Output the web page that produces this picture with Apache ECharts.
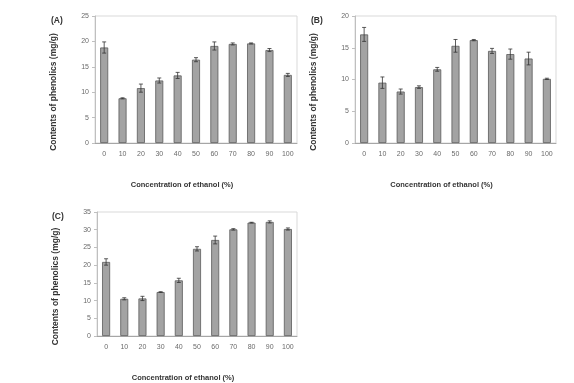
<!DOCTYPE html>
<html>
<head>
<meta charset="utf-8">
<script src="https://cdn.jsdelivr.net/npm/echarts@6/dist/echarts.min.js"></script>
<style>
  html, body { margin: 0; padding: 0; background: #fff; }
  #chart { width: 574px; height: 383px; }
</style>
</head>
<body>
<div id="chart"></div>
<script>
// ethanol concentration (%)
const categories = ["0", "10", "20", "30", "40", "50", "60", "70", "80", "90", "100"];

// panel A
const valuesA = [18.8, 8.8, 10.8, 12.3, 13.3, 16.4, 19.1, 19.5, 19.6, 18.3, 13.4];
const errorsA = [1.1, 0.1, 0.8, 0.5, 0.6, 0.4, 0.8, 0.2, 0.1, 0.3, 0.3];
// panel B
const valuesB = [17.1, 9.5, 8.1, 8.8, 11.6, 15.3, 16.2, 14.5, 14.0, 13.3, 10.1];
const errorsB = [1.1, 0.9, 0.4, 0.2, 0.3, 1.0, 0.1, 0.4, 0.8, 1.0, 0.1];
// panel C
const valuesC = [20.9, 10.5, 10.6, 12.4, 15.7, 24.6, 27.1, 30.1, 32.0, 32.2, 30.2];
const errorsC = [0.9, 0.3, 0.6, 0.1, 0.6, 0.6, 1.1, 0.2, 0.1, 0.3, 0.3];

const yMaxA = 25, yMaxB = 20, yMaxC = 35;

const xTitle = "Concentration of ethanol (%)";
const yTitle = "Contents of phenolics (mg/g)";

const fontFamily = "Liberation Sans, Arial, sans-serif";
const labelColor = "#6a6a6a";

function errorBarItem(params, api) {
  const x = api.value(0);
  const v = api.value(1);
  const e = api.value(2);
  const top = api.coord([x, v + e]);
  const bot = api.coord([x, v - e]);
  const hw = 2;
  const style = { stroke: "#333", lineWidth: 0.8 };
  return {
    type: "group",
    children: [
      { type: "line", shape: { x1: top[0], y1: top[1], x2: bot[0], y2: bot[1] }, style: style },
      { type: "line", shape: { x1: top[0] - hw, y1: top[1], x2: top[0] + hw, y2: top[1] }, style: style },
      { type: "line", shape: { x1: bot[0] - hw, y1: bot[1], x2: bot[0] + hw, y2: bot[1] }, style: style }
    ]
  };
}

function makeX(gridIndex) {
  return {
    type: "category",
    gridIndex: gridIndex,
    data: categories,
    name: xTitle,
    nameLocation: "middle",
    nameGap: 38,
    nameTextStyle: {
      fontSize: 7.5, color: "#333", fontWeight: "bold", fontFamily: fontFamily,
      padding: [0, 28, 0, 0]
    },
    axisLine: { lineStyle: { color: "#a6a6a6", width: 1 } },
    axisTick: { show: false },
    axisLabel: { fontSize: 7, color: labelColor, margin: 8, fontFamily: fontFamily }
  };
}

function makeY(gridIndex, max) {
  return {
    type: "value",
    gridIndex: gridIndex,
    min: 0,
    max: max,
    interval: 5,
    name: yTitle,
    nameLocation: "middle",
    nameGap: 37,
    nameRotate: 90,
    nameTextStyle: {
      fontSize: 8.5, color: "#333", fontWeight: "bold", fontFamily: fontFamily,
      padding: [0, 25, 0, 0]
    },
    axisLine: { show: true, lineStyle: { color: "#bfbfbf", width: 1 } },
    axisTick: { show: true, length: 3, lineStyle: { color: "#bfbfbf" } },
    splitLine: { show: false },
    axisLabel: { fontSize: 7, color: labelColor, margin: 6, fontFamily: fontFamily }
  };
}

function makeBars(idx, values) {
  return {
    type: "bar",
    xAxisIndex: idx,
    yAxisIndex: idx,
    data: values,
    barWidth: 8,
    itemStyle: { color: "#a3a3a3", borderColor: "#5a5a5a", borderWidth: 0.8 },
    silent: true
  };
}

function makeErrors(idx, values, errors) {
  return {
    type: "custom",
    xAxisIndex: idx,
    yAxisIndex: idx,
    renderItem: errorBarItem,
    data: values.map((v, i) => [i, v, errors[i]]),
    z: 10,
    silent: true
  };
}

const chart = echarts.init(document.getElementById("chart"), null, { renderer: "canvas" });

const gridStyle = { show: true, borderColor: "#d9d9d9", borderWidth: 1, containLabel: false };
const panelLabel = { fontSize: 8.5, fontWeight: "bold", fill: "#333", fontFamily: fontFamily };

const option = {
  animation: false,
  backgroundColor: "#fff",
  grid: [
    Object.assign({ left: 95, top: 16, width: 202, height: 127 }, gridStyle),
    Object.assign({ left: 355, top: 16, width: 201, height: 127 }, gridStyle),
    Object.assign({ left: 97, top: 212, width: 200, height: 128 }, gridStyle)
  ],
  xAxis: [makeX(0), makeX(1), makeX(2)],
  yAxis: [makeY(0, yMaxA), makeY(1, yMaxB), makeY(2, yMaxC)],
  graphic: [
    { type: "text", left: 51, top: 16, style: Object.assign({ text: "(A)" }, panelLabel) },
    { type: "text", left: 311, top: 16, style: Object.assign({ text: "(B)" }, panelLabel) },
    { type: "text", left: 52, top: 212, style: Object.assign({ text: "(C)" }, panelLabel) }
  ],
  series: [
    makeBars(0, valuesA), makeErrors(0, valuesA, errorsA),
    makeBars(1, valuesB), makeErrors(1, valuesB, errorsB),
    makeBars(2, valuesC), makeErrors(2, valuesC, errorsC)
  ]
};

chart.setOption(option);
</script>
</body>
</html>
